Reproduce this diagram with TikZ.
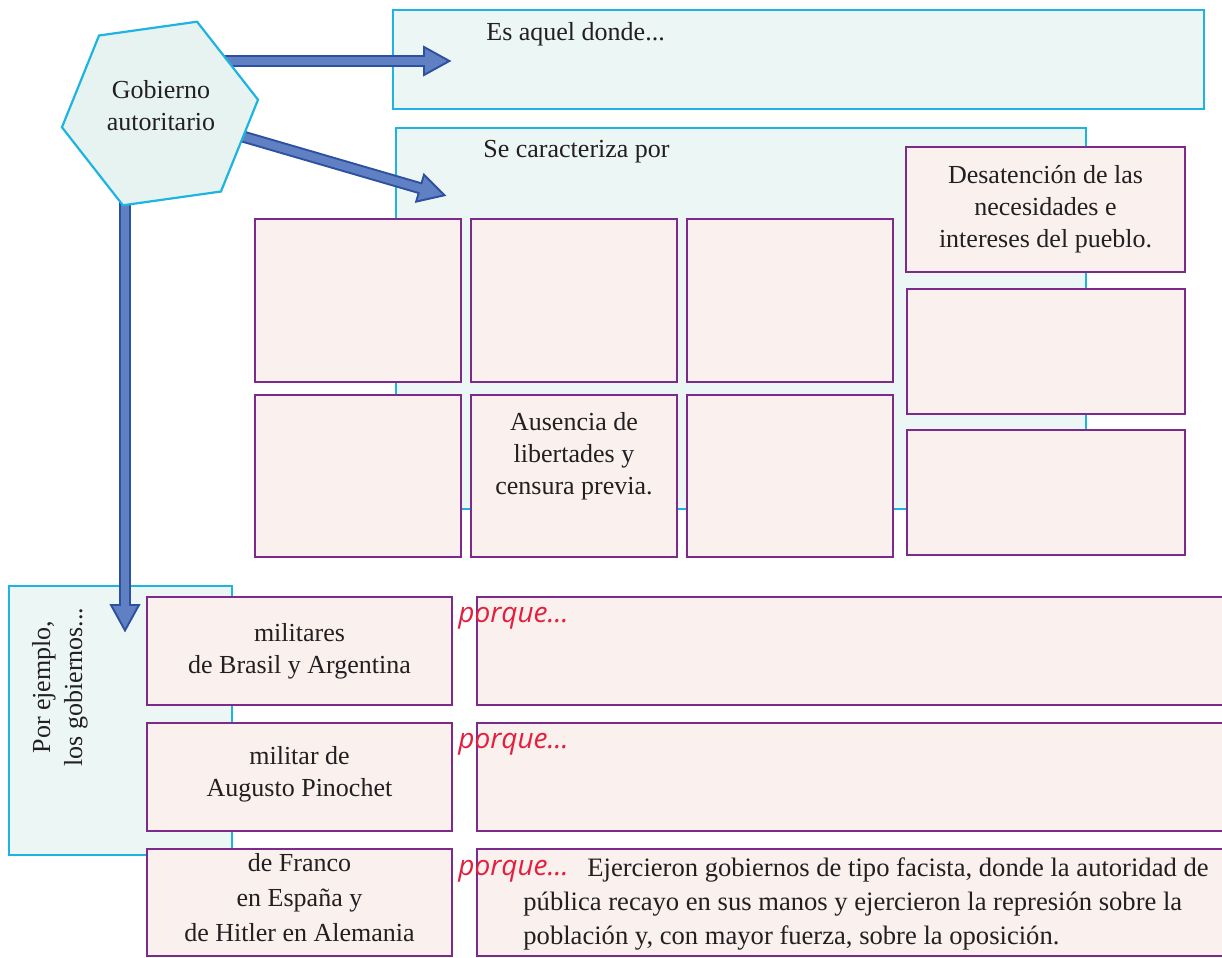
\documentclass[tikz,border=0pt]{standalone}
\usepackage{fontspec}
\setmainfont{Liberation Serif}
\newfontfamily\porquefont{Open Sans}
\usetikzlibrary{calc,fit,arrows.meta}

\definecolor{cyanline}{RGB}{30,180,226}
\definecolor{cyanfill}{RGB}{236,246,245}
\definecolor{hexfill}{RGB}{230,243,241}
\definecolor{purpleline}{RGB}{125,43,139}
\definecolor{pinkfill}{RGB}{250,240,238}
\definecolor{arrowfill}{RGB}{96,128,196}
\definecolor{arrowline}{RGB}{46,80,160}
\definecolor{porquered}{RGB}{228,30,60}
\definecolor{inktext}{RGB}{35,31,32}

\tikzset{
	txt/.style={text=inktext, font=\fontsize{13}{16}\selectfont, align=center, inner sep=0pt},
	cyanbox/.style={draw=cyanline, fill=cyanfill, line width=1.1pt, inner sep=0pt},
	pinkbox/.style={draw=purpleline, fill=pinkfill, line width=1.3pt, inner sep=0pt},
	hexa/.style={draw=cyanline, fill=hexfill, line width=1.1pt},
	fatarrow/.style={draw=arrowline, line width=6pt, -{Triangle[length=14.5pt,width=14.5pt]},
		postaction={draw=arrowfill, line width=4pt, shorten >=2.2pt, -{Triangle[length=11.3pt,width=11.3pt]}}},
	porque/.style={text=porquered, font=\porquefont\itshape\fontsize{14}{16}\selectfont, inner sep=0pt, anchor=base west},
}

\begin{document}
\begin{tikzpicture}[x=0.5pt,y=-0.5pt]
		%%%%% START %%%%%
		\useasboundingbox (0,0) rectangle (1222,958);
		
		\node[cyanbox, fit={(393,10) (1204,109)}] (def) {};
		\node[cyanbox, fit={(396,128) (1086,509)}] (carac) {};
		\node[cyanbox, fit={(9,586) (232,855)}] (ejem) {};
		
		\node[txt, anchor=base west] (deftxt) at (486,40) {Es aquel donde...};
		\node[txt, anchor=base west] (caractxt) at (483,157) {Se caracteriza por};
		\node[txt, rotate=90] (ejemtxt) at (60,687) {Por ejemplo,\\los gobiernos...};
		
		\coordinate (hexc) at (160,113.5);
		\coordinate (a1s) at (200,61);
		\coordinate (a1e) at (452,61);
		\coordinate (a2s) at (210,127);
		\coordinate (a2e) at (447,196);
		\coordinate (a3s) at (125,190);
		\coordinate (a3e) at (125,633);
		
		\draw[fatarrow] (a1s) -- (a1e);
		\draw[fatarrow] (a2s) -- (a2e);
		\draw[fatarrow] (a3s) -- (a3e);
		
		\draw[hexa] ([shift={(-8:99)}]hexc) \foreach \a in {52,112,172,232,292}{ -- ([shift={(\a:99)}]hexc)} -- cycle;
		\node[txt] (gob) at (161,106) {Gobierno\\autoritario};
		
		\node[pinkbox, fit={(255,219) (461,382)}] (c1) {};
		\node[pinkbox, fit={(471,219) (677,382)}] (c2) {};
		\node[pinkbox, fit={(687,219) (893,382)}] (c3) {};
		\node[pinkbox, fit={(255,395) (461,557)}] (c4) {};
		\node[pinkbox, fit={(471,395) (677,557)}] (c5) {};
		\node[pinkbox, fit={(687,395) (893,557)}] (c6) {};
		\node[pinkbox, fit={(906,147) (1185,272)}] (c7) {};
		\node[pinkbox, fit={(907,289) (1185,414)}] (c8) {};
		\node[pinkbox, fit={(907,430) (1185,555)}] (c9) {};
		\node[txt] (c7txt) at (c7.center) {Desatención de las\\necesidades e\\intereses del pueblo.};
		\node[txt] (c5txt) at (574,456) {Ausencia de\\libertades y\\censura previa.};
		
		\node[pinkbox, fit={(147,597) (452,705)}] (ej1) {};
		\node[pinkbox, fit={(147,723) (452,831)}] (ej2) {};
		\node[pinkbox, fit={(147,849) (452,956)}] (ej3) {};
		\node[txt] (ej1txt) at (ej1.center) {militares\\de Brasil y Argentina};
		\node[txt] (ej2txt) at ($(ej2.center)+(0,-3)$) {militar de\\Augusto Pinochet};
		\node[txt, font=\fontsize{13}{17.5}\selectfont] (ej3txt) at ($(ej3.center)+(0,-5)$) {de Franco\\en España y\\de Hitler en Alemania};
		
		\node[pinkbox, fit={(477,597) (1226,705)}] (pq1) {};
		\node[pinkbox, fit={(477,723) (1226,831)}] (pq2) {};
		\node[pinkbox, fit={(477,849) (1226,956)}] (pq3) {};
		
		\node[porque] (pq1a) at (458,622) {porque...};
		\node[porque] (pq2a) at (458,748) {porque...};
		\node[porque] (pq3a) at (458,875) {porque...};
		\node[txt, align=left, anchor=north west, font=\fontsize{13.3}{17}\selectfont] (pq3txt) at (523,857)
			{\hspace*{32pt}Ejercieron gobiernos de tipo facista, donde la autoridad de\\pública recayo en sus manos y ejercieron la represión sobre la\\población y, con mayor fuerza, sobre la oposición.};
		
		%%%%% END %%%%%
	\end{tikzpicture}
\end{document}
